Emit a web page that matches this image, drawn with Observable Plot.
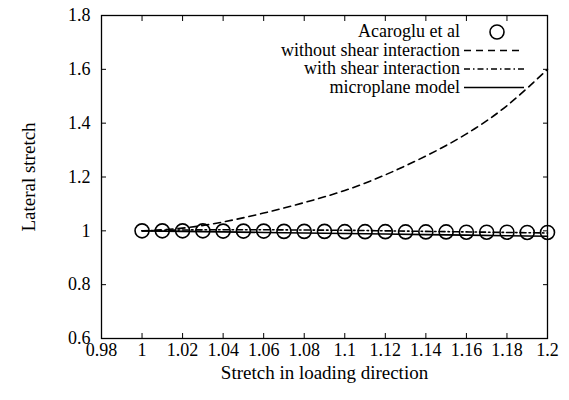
<!DOCTYPE html>
<html>
<head>
<meta charset="utf-8">
<script src="https://cdn.jsdelivr.net/npm/d3@7"></script>
<script src="https://cdn.jsdelivr.net/npm/@observablehq/plot@0.6"></script>
<style>
  html, body { margin: 0; padding: 0; background: #fff; }
  #chart { position: relative; width: 569px; height: 400px; }
</style>
</head>
<body>
<div id="chart"></div>
<script>
// ---- data ----
const acarogluStretch = [1.00,1.01,1.02,1.03,1.04,1.05,1.06,1.07,1.08,1.09,1.10,1.11,1.12,1.13,1.14,1.15,1.16,1.17,1.18,1.19,1.20];
const acarogluLateral = [1.000,1.000,1.000,1.000,0.999,0.999,0.999,0.998,0.998,0.998,0.997,0.997,0.997,0.996,0.996,0.996,0.995,0.995,0.995,0.994,0.994];

const modelStretch = [1.00,1.02,1.04,1.06,1.08,1.10,1.12,1.14,1.16,1.18,1.20];
const withoutShear = [1.000,1.010,1.033,1.066,1.105,1.150,1.208,1.278,1.360,1.465,1.600];
const withShear    = [1.000,1.003,1.004,1.004,1.003,1.002,1.000,0.998,0.996,0.994,0.992];
const microplane   = [1.000,0.998,0.996,0.994,0.992,0.990,0.988,0.986,0.984,0.982,0.980];

const xTicks = [0.98,1.00,1.02,1.04,1.06,1.08,1.10,1.12,1.14,1.16,1.18,1.20];
const yTicks = [0.6,0.8,1.0,1.2,1.4,1.6,1.8];
const xTickLabels = ["0.98","1","1.02","1.04","1.06","1.08","1.1","1.12","1.14","1.16","1.18","1.2"];
const yTickLabels = ["0.6","0.8","1","1.2","1.4","1.6","1.8"];

const legendLabels = ["Acaroglu et al","without shear interaction","with shear interaction","microplane model"];
const xTitle = "Stretch in loading direction";
const yTitle = "Lateral stretch";

// ---- tables ----
const pts = acarogluStretch.map((x, i) => ({x, y: acarogluLateral[i]}));
const seriesOf = (vals) => modelStretch.map((x, i) => ({x, y: vals[i]}));
const xFmt = (d) => xTickLabels[xTicks.findIndex(t => Math.abs(t - d) < 1e-9)];
const yFmt = (d) => yTickLabels[yTicks.findIndex(t => Math.abs(t - d) < 1e-9)];
const blank = () => "";
const FONT = "'Liberation Serif', 'Times New Roman', Times, serif";

const chart = Plot.plot({
  width: 569,
  height: 400,
  marginLeft: 101,
  marginRight: 22,
  marginTop: 15,
  marginBottom: 62,
  style: {fontFamily: FONT, fontSize: "19px", color: "#000", background: "#fff"},
  x: {domain: [0.98, 1.2]},
  y: {domain: [0.6, 1.8]},
  marks: [
    Plot.frame({stroke: "#000", strokeWidth: 1.3}),
    // tick labels
    Plot.axisX({ticks: xTicks, tickSize: 0, tickPadding: 5, fontSize: 18, tickFormat: xFmt, label: null}),
    Plot.axisY({ticks: yTicks, tickSize: 0, tickPadding: 11, fontSize: 18, tickFormat: yFmt, label: null}),
    // axis titles
    Plot.axisX({ticks: [], tickSize: 0, label: xTitle, labelAnchor: "center", labelArrow: "none", labelOffset: 40}),
    Plot.axisY({ticks: [], tickSize: 0, label: yTitle, labelAnchor: "center", labelArrow: "none", labelOffset: 80}),
    // inward ticks on all sides
    Plot.axisX({ticks: xTicks, tickSize: -5, tickFormat: blank, label: null}),
    Plot.axisX({anchor: "top", ticks: xTicks, tickSize: -5, tickFormat: blank, label: null}),
    Plot.axisY({ticks: yTicks, tickSize: -5, tickFormat: blank, label: null}),
    Plot.axisY({anchor: "right", ticks: yTicks, tickSize: -5, tickFormat: blank, label: null}),
    // series
    Plot.line(seriesOf(withoutShear), {x: "x", y: "y", curve: "natural", stroke: "#000", strokeWidth: 1.6, strokeDasharray: "7,5"}),
    Plot.line(seriesOf(withShear), {x: "x", y: "y", curve: "natural", stroke: "#000", strokeWidth: 1.6, strokeDasharray: "6,3,1.5,3"}),
    Plot.line(seriesOf(microplane), {x: "x", y: "y", curve: "linear", stroke: "#000", strokeWidth: 1.6}),
    Plot.dot(pts, {x: "x", y: "y", r: 7, stroke: "#000", strokeWidth: 1.6, fill: "none"})
  ]
});

const container = document.getElementById("chart");
container.appendChild(chart);

// ---- legend (inside the plot frame, top right) ----
const svg = d3.select(chart);
const lg = svg.append("g").attr("font-family", FONT).attr("font-size", 18);
const rowY = [37, 55.5, 74, 92.5];
const styles = [null, "7,5", "6,3,1.5,3", null];
legendLabels.forEach((lab, i) => {
  lg.append("text").attr("x", 460).attr("y", rowY[i]).attr("text-anchor", "end").attr("fill", "#000").text(lab);
  if (i === 0) {
    lg.append("circle").attr("cx", 497).attr("cy", rowY[i] - 5).attr("r", 7).attr("fill", "none").attr("stroke", "#000").attr("stroke-width", 1.6);
  } else {
    const l = lg.append("line").attr("x1", 464).attr("x2", 524).attr("y1", rowY[i] - 5).attr("y2", rowY[i] - 5)
      .attr("stroke", "#000").attr("stroke-width", 1.6);
    if (styles[i]) l.attr("stroke-dasharray", styles[i]);
  }
});
</script>
</body>
</html>
